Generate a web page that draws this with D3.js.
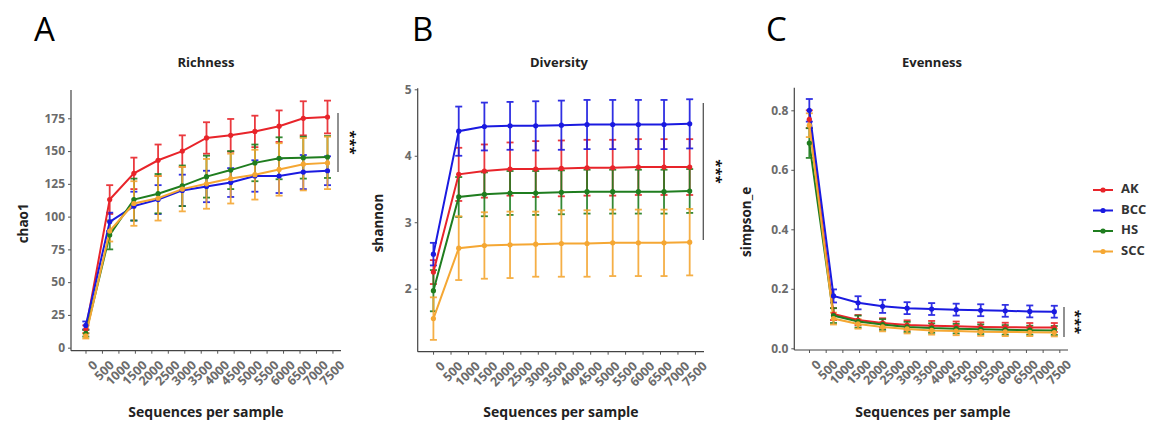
<!DOCTYPE html>
<html>
<head>
<meta charset="utf-8">
<script src="https://cdn.jsdelivr.net/npm/d3@7"></script>
<style>
  html, body { margin: 0; padding: 0; background: #fff; }
  svg { display: block; }
  text { font-family: "Open Sans", "Noto Sans", sans-serif; }
</style>
</head>
<body>
<svg id="chart" width="1150" height="426"></svg>
<script>
// ---------------- DATA ----------------
const depths = [10, 735, 1470, 2205, 2940, 3675, 4410, 5145, 5880, 6615, 7350];
const xTickValues = [0, 500, 1000, 1500, 2000, 2500, 3000, 3500, 4000, 4500, 5000, 5500, 6000, 6500, 7000, 7500];
const groups = ["AK", "BCC", "HS", "SCC"];
const groupColors = ["#e8242a", "#1a1ae0", "#1f7d1f", "#f5a733"];

// Richness (chao1)
const chao1Mean = {
  AK:  [14, 113, 133, 143, 150, 160, 162, 165, 169, 175, 176],
  BCC: [17, 96, 108, 113, 120, 123, 126, 131, 131, 134, 135],
  HS:  [11, 86, 113, 117.5, 123.5, 130.5, 135.5, 141, 144.5, 145, 145.5],
  SCC: [9, 89, 110, 114, 121, 125, 129, 132, 136, 140, 141]
};
const chao1SE = {
  AK:  [3, 11, 12, 12, 12, 12, 12.5, 12, 12, 13, 12.5],
  BCC: [3, 7, 11, 11, 12, 12, 11, 12, 13, 13, 11],
  HS:  [2.5, 11, 16, 15, 15.5, 16, 14.5, 14, 16, 16, 16],
  SCC: [2, 8, 17, 17, 17, 19, 19, 19, 20, 20, 20]
};
// Diversity (shannon)
const shannonMean = {
  AK:  [2.25, 3.72, 3.77, 3.80, 3.80, 3.81, 3.82, 3.82, 3.83, 3.83, 3.83],
  BCC: [2.52, 4.37, 4.44, 4.45, 4.45, 4.46, 4.47, 4.47, 4.47, 4.47, 4.48],
  HS:  [1.97, 3.38, 3.42, 3.44, 3.44, 3.45, 3.46, 3.46, 3.46, 3.46, 3.47],
  SCC: [1.55, 2.61, 2.65, 2.66, 2.67, 2.68, 2.68, 2.69, 2.69, 2.69, 2.70]
};
const shannonSE = {
  AK:  [0.18, 0.40, 0.40, 0.40, 0.42, 0.42, 0.42, 0.42, 0.42, 0.42, 0.42],
  BCC: [0.17, 0.37, 0.36, 0.36, 0.37, 0.37, 0.37, 0.37, 0.37, 0.37, 0.37],
  HS:  [0.31, 0.30, 0.33, 0.33, 0.33, 0.33, 0.33, 0.33, 0.33, 0.33, 0.33],
  SCC: [0.32, 0.48, 0.50, 0.50, 0.49, 0.50, 0.50, 0.50, 0.50, 0.50, 0.50]
};
// Evenness (simpson_e)
const simpsonMean = {
  AK:  [0.77, 0.115, 0.095, 0.085, 0.078, 0.076, 0.074, 0.072, 0.071, 0.070, 0.070],
  BCC: [0.80, 0.176, 0.153, 0.141, 0.135, 0.132, 0.130, 0.128, 0.126, 0.124, 0.123],
  HS:  [0.69, 0.110, 0.090, 0.080, 0.072, 0.068, 0.066, 0.064, 0.062, 0.061, 0.060],
  SCC: [0.75, 0.100, 0.082, 0.072, 0.065, 0.060, 0.058, 0.056, 0.055, 0.054, 0.053]
};
const simpsonSE = {
  AK:  [0.03, 0.020, 0.017, 0.016, 0.016, 0.016, 0.016, 0.015, 0.015, 0.015, 0.015],
  BCC: [0.038, 0.022, 0.022, 0.022, 0.020, 0.020, 0.020, 0.020, 0.020, 0.020, 0.020],
  HS:  [0.05, 0.025, 0.020, 0.018, 0.017, 0.016, 0.016, 0.016, 0.016, 0.015, 0.015],
  SCC: [0.04, 0.020, 0.016, 0.015, 0.015, 0.014, 0.014, 0.014, 0.014, 0.013, 0.013]
};
const chao1Ticks = [0, 25, 50, 75, 100, 125, 150, 175];
const shannonTicks = [2, 3, 4, 5];
const simpsonTicks = [0.0, 0.2, 0.4, 0.6, 0.8];

// ---------------- DRAW ----------------
const svg = d3.select("#chart");
const color = d3.scaleOrdinal().domain(groups).range(groupColors);

const panels = [
  { letter: "A", title: "Richness", ylab: "chao1", mean: chao1Mean, se: chao1SE, ticks: chao1Ticks, fmt: d3.format("d"),
    left: 71, right: 341, top: 90, bottom: 350.7, ydom: [-2.3, 196.6],
    letterX: 34, titleX: 206, ylabX: 24, xlabX: 206,
    sig: { x: 338, y1: 113, y2: 172, sx: 349 } },
  { letter: "B", title: "Diversity", ylab: "shannon", mean: shannonMean, se: shannonSE, ticks: shannonTicks, fmt: d3.format("d"),
    left: 417.7, right: 704, top: 88.3, bottom: 351.7, ydom: [1.052, 5.015],
    letterX: 412, titleX: 559, ylabX: 379, xlabX: 561,
    sig: { x: 703.3, y1: 103, y2: 240, sx: 715 } },
  { letter: "C", title: "Evenness", ylab: "simpson_e", mean: simpsonMean, se: simpsonSE, ticks: simpsonTicks, fmt: d3.format(".1f"),
    left: 794.3, right: 1068, top: 87.7, bottom: 350, ydom: [-0.0057, 0.876],
    letterX: 766, titleX: 932, ylabX: 747, xlabX: 933,
    sig: { x: 1064, y1: 307, y2: 337, sx: 1074 } }
];

panels.forEach(p => {
  const x = d3.scaleLinear().domain([-440, 7760]).range([p.left, p.right]);
  const y = d3.scaleLinear().domain(p.ydom).range([p.bottom, p.top]);
  const g = svg.append("g");

  // panel letter
  g.append("text").attr("x", p.letterX).attr("y", 41)
    .attr("font-size", 33).attr("fill", "#000").text(p.letter);
  // title
  g.append("text").attr("x", p.titleX).attr("y", 67).attr("text-anchor", "middle")
    .attr("font-size", 13).attr("font-weight", "bold").attr("fill", "#222").text(p.title);

  // axes
  const yAxis = d3.axisLeft(y).tickValues(p.ticks).tickFormat(p.fmt).tickSize(3).tickPadding(3);
  const ya = g.append("g").attr("transform", `translate(${p.left},0)`).call(yAxis);
  ya.select(".domain").attr("d", `M0,${p.bottom}V${p.top}`).attr("stroke", "#444").attr("stroke-width", 1.2);
  ya.selectAll(".tick line").attr("stroke", "#555");
  ya.selectAll(".tick text").attr("font-size", 12).attr("font-weight", "bold").attr("fill", "#6b6b6b")
    .attr("font-family", "Open Sans, sans-serif");

  const xAxis = d3.axisBottom(x).tickValues(xTickValues).tickFormat(d3.format("d")).tickSize(3);
  const xa = g.append("g").attr("transform", `translate(0,${p.bottom})`).call(xAxis);
  xa.select(".domain").attr("d", `M${p.left},0H${p.right}`).attr("stroke", "#444").attr("stroke-width", 1.2);
  xa.selectAll(".tick line").attr("stroke", "#555");
  xa.selectAll(".tick text")
    .attr("font-size", 12.5).attr("font-weight", "bold").attr("fill", "#6b6b6b")
    .attr("font-family", "Open Sans, sans-serif")
    .attr("text-anchor", "end").attr("dy", null).attr("y", null)
    .attr("transform", "translate(5,8) rotate(-45)")
    .attr("dominant-baseline", "hanging");

  // axis titles
  g.append("text").attr("x", p.xlabX).attr("y", 417).attr("text-anchor", "middle")
    .attr("font-size", 14).attr("font-weight", "bold").attr("fill", "#222").text("Sequences per sample");
  const ymid = (p.top + p.bottom) / 2 + 3;
  g.append("text").attr("transform", `translate(${p.ylabX},${ymid}) rotate(-90)`)
    .attr("text-anchor", "middle").attr("dominant-baseline", "middle")
    .attr("font-size", 13.5).attr("font-weight", "bold").attr("fill", "#222").text(p.ylab);

  // data
  const series = groups.map(gr => ({
    key: gr,
    values: depths.map((d, i) => ({ d, m: p.mean[gr][i], s: p.se[gr][i] }))
  }));

  // error bars
  series.forEach(s => {
    const eg = g.append("g").attr("stroke", color(s.key)).attr("stroke-width", 1.8).attr("fill", "none").attr("opacity", 0.9);
    s.values.forEach(v => {
      const cx = x(v.d), yt = y(v.m + v.s), yb = y(v.m - v.s);
      eg.append("line").attr("x1", cx).attr("x2", cx).attr("y1", yt).attr("y2", yb);
      eg.append("line").attr("x1", cx - 3.5).attr("x2", cx + 3.5).attr("y1", yt).attr("y2", yt);
      eg.append("line").attr("x1", cx - 3.5).attr("x2", cx + 3.5).attr("y1", yb).attr("y2", yb);
    });
  });
  // lines
  const line = d3.line().x(v => x(v.d)).y(v => y(v.m));
  series.forEach(s => {
    g.append("path").datum(s.values).attr("d", line).attr("fill", "none")
      .attr("stroke", color(s.key)).attr("stroke-width", 2);
  });
  // points
  series.forEach(s => {
    g.selectAll(null).data(s.values).enter().append("circle")
      .attr("cx", v => x(v.d)).attr("cy", v => y(v.m)).attr("r", 2.6).attr("fill", color(s.key));
  });

  // significance
  g.append("line").attr("x1", p.sig.x).attr("x2", p.sig.x).attr("y1", p.sig.y1).attr("y2", p.sig.y2)
    .attr("stroke", "#555").attr("stroke-width", 1.3);
  g.append("text").attr("transform", `translate(${p.sig.sx},${(p.sig.y1 + p.sig.y2) / 2}) rotate(90)`)
    .attr("text-anchor", "middle").attr("dominant-baseline", "middle")
    .attr("font-size", 15).attr("font-weight", "bold").attr("fill", "#111").text("***");
});

// legend
const leg = svg.append("g");
groups.forEach((gr, i) => {
  const ly = 190 + i * 20.5;
  leg.append("line").attr("x1", 1093).attr("x2", 1113).attr("y1", ly).attr("y2", ly)
    .attr("stroke", color(gr)).attr("stroke-width", 2);
  leg.append("circle").attr("cx", 1103).attr("cy", ly).attr("r", 2.6).attr("fill", color(gr));
  leg.append("text").attr("x", 1121).attr("y", ly).attr("dominant-baseline", "middle")
    .attr("font-size", 13).attr("font-weight", "bold").attr("fill", "#333").text(gr);
});
</script>
</body>
</html>
